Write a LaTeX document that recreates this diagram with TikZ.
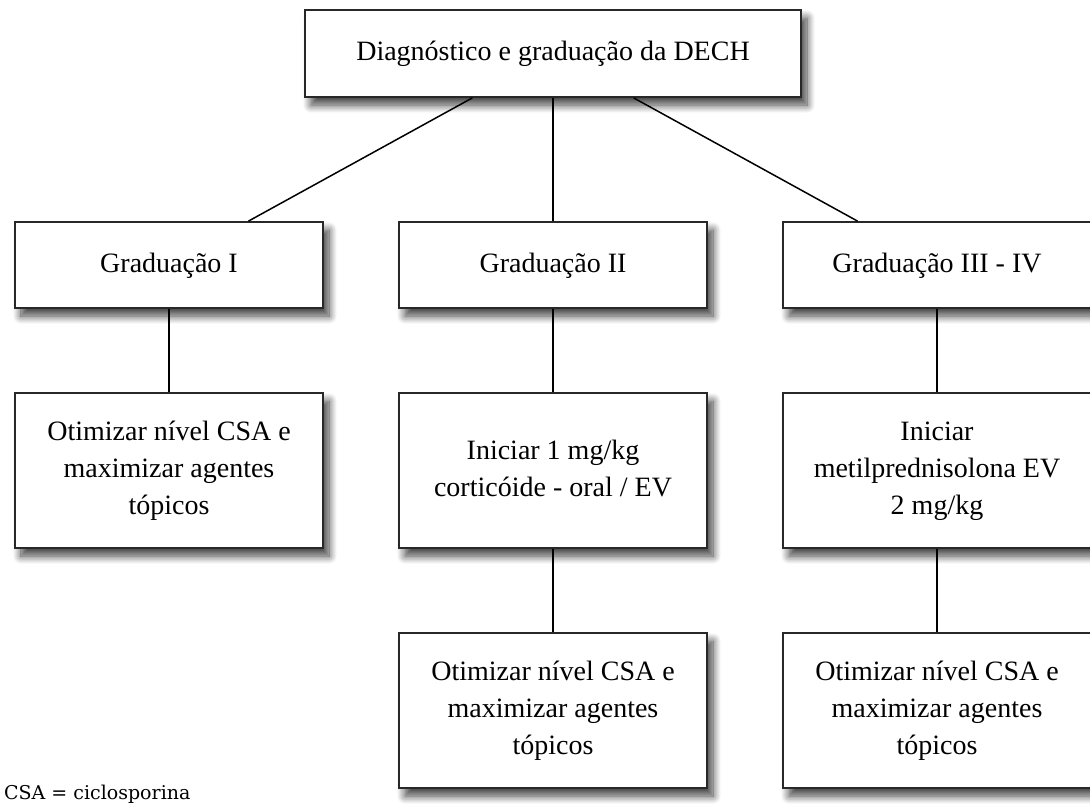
\documentclass[tikz,border=0pt]{standalone}
\usepackage{fontspec}
\setmainfont{Liberation Serif}
\newfontfamily\notefont{DejaVu Serif}
\usepackage{xcolor}
\definecolor{boxline}{RGB}{40,40,40}
\usetikzlibrary{positioning,shadows.blur}
\newcommand{\boxtext}[2][7pt]{\raisebox{#1}{\begin{tabular}{@{}c@{}}#2\end{tabular}}}

\begin{document}
\begin{tikzpicture}[x=1pt,y=-1pt,
  dechbox/.style={draw=boxline,line width=1.8pt,fill=white,align=center,
    minimum width=308pt,minimum height=86pt,inner sep=4pt,
    font=\fontsize{28}{37}\selectfont,
    blur shadow={shadow xshift=6pt,shadow yshift=-8pt,shadow blur steps=10,
      shadow blur radius=8pt,shadow opacity=75}},
  tallbox/.style={dechbox,minimum height=155pt},
  link/.style={line width=1.5pt,black}
]
  \useasboundingbox (0,0) rectangle (1090,809);
  % Top: diagnosis
  \node[dechbox,minimum width=496pt,minimum height=87pt] (dech) at (553,53.5)
    {\boxtext[6pt]{Diagnóstico e graduação da DECH}};
  % Grades
  \node[dechbox] (grad1) at (169,265) {\boxtext[2pt]{Graduação I}};
  \node[dechbox] (grad2) at (553,265) {\boxtext[2pt]{Graduação II}};
  \node[dechbox] (grad3) at (937,265) {\boxtext[2pt]{Graduação III - IV}};
  % First step per grade
  \node[tallbox] (otim1) at (169,470.5)
    {\boxtext{Otimizar nível CSA e\\maximizar agentes\\tópicos}};
  \node[tallbox] (ini2) at (553,470.5)
    {\boxtext{Iniciar 1 mg/kg\\corticóide - oral / EV}};
  \node[tallbox] (ini3) at (937,470.5)
    {\boxtext{Iniciar\\metilprednisolona EV\\2 mg/kg}};
  % Second step
  \node[tallbox] (otim2) at (553,710.5)
    {\boxtext{Otimizar nível CSA e\\maximizar agentes\\tópicos}};
  \node[tallbox] (otim3) at (937,710.5)
    {\boxtext{Otimizar nível CSA e\\maximizar agentes\\tópicos}};
  % Connectors
  \draw[link] (dech) -- (grad1);
  \draw[link] (dech) -- (grad2);
  \draw[link] (dech) -- (grad3);
  \draw[link] (grad1) -- (otim1);
  \draw[link] (grad2) -- (ini2);
  \draw[link] (ini2) -- (otim2);
  \draw[link] (grad3) -- (ini3);
  \draw[link] (ini3) -- (otim3);
  % Legend
  \node[anchor=west,inner sep=0pt,font=\notefont\fontsize{19}{22}\selectfont] (legend) at (4,794)
    {CSA = ciclosporina};
\end{tikzpicture}
\end{document}
